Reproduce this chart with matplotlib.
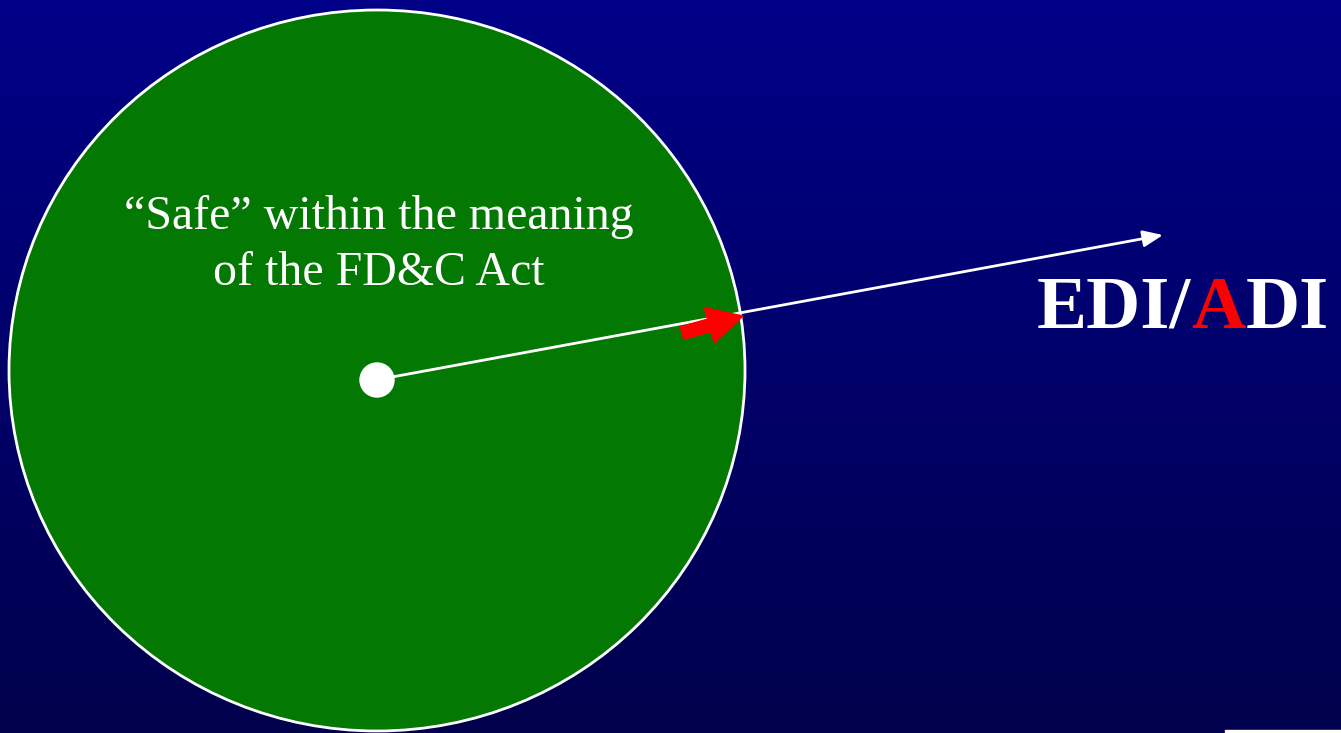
import numpy as np
import matplotlib
matplotlib.use("Agg")
import matplotlib.pyplot as plt
from matplotlib.patches import Ellipse, Circle, FancyArrow, Rectangle

# slide content
circle_label = "\u201cSafe\u201d within the meaning\nof the FD&C Act"
title_parts = ["EDI/", "A", "DI"]
title_colors = ["white", "red", "white"]

W, H = 1341, 733
fig = plt.figure(figsize=(W / 100, H / 100), dpi=100)
ax = fig.add_axes([0, 0, 1, 1])
ax.set_xlim(0, W)
ax.set_ylim(H, 0)
ax.axis("off")

# background: vertical navy gradient
top = np.array([0, 0, 136]) / 255
bot = np.array([0, 0, 76]) / 255
t = np.linspace(0, 1, 256)[:, None]
grad = top[None, None, :] * (1 - t[..., None]) + bot[None, None, :] * t[..., None]
grad = np.repeat(grad, 2, axis=1)
ax.imshow(grad, extent=[0, W, H, 0], aspect="auto", zorder=0)

# big green circle
ax.add_patch(Ellipse((377, 370.5), 736, 721, facecolor="#037803",
                     edgecolor="white", linewidth=2, zorder=1))

ax.text(379, 245, circle_label, color="white", ha="center", va="center",
        fontsize=34.5, family="Liberation Serif", linespacing=1.36, zorder=3)

# centre dot and white arrow
ax.add_patch(Circle((377, 380), 17, color="white", zorder=4))
ax.annotate("", xy=(1163, 235), xytext=(392, 377),
            arrowprops=dict(arrowstyle="-|>,head_length=1.2,head_width=0.5",
                            color="white", lw=2, shrinkA=0, shrinkB=0), zorder=3)

# short red arrow at the boundary
ax.add_patch(FancyArrow(682, 333, 61, -17, width=13, head_width=37, head_length=35,
                        length_includes_head=True, color="red", zorder=5))

# EDI/ADI title
x = 1037
for part, col in zip(title_parts, title_colors):
    txt = ax.text(x, 310, part, color=col, fontsize=54, fontweight="bold",
                  family="Liberation Serif", ha="left", va="center", zorder=3)
    fig.canvas.draw()
    bb = txt.get_window_extent()
    x += bb.width

# small white sliver at bottom right
ax.add_patch(Rectangle((1225, 730), 116, 3, color="white", zorder=3))

fig.savefig("out.png", dpi=100)
